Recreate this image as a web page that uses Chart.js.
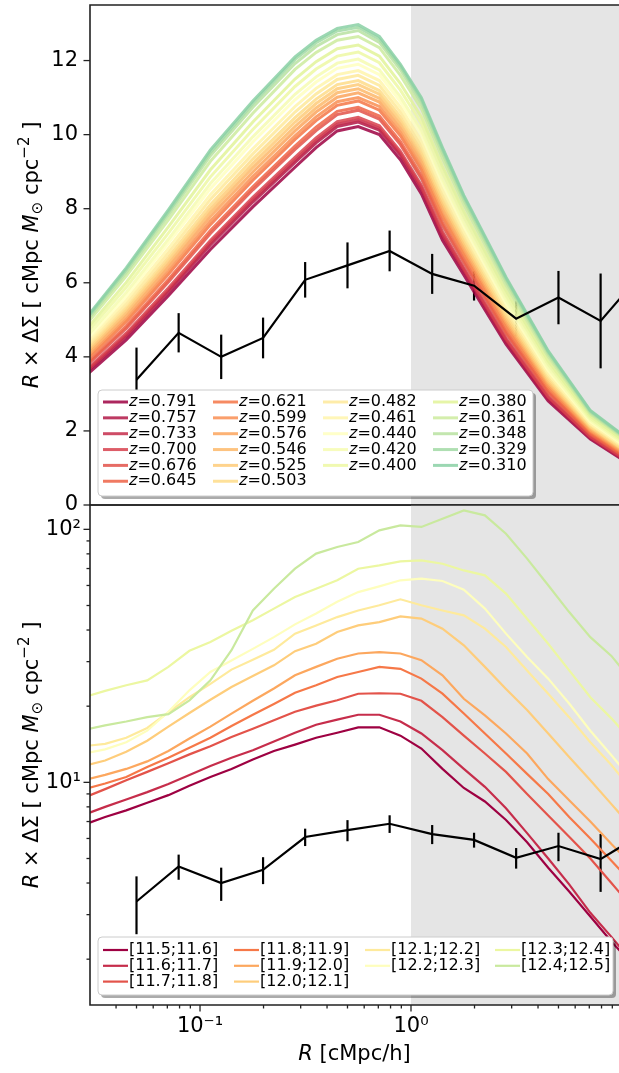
<!DOCTYPE html>
<html>
<head>
<meta charset="utf-8">
<script src="https://cdn.jsdelivr.net/npm/chart.js@4.4.1/dist/chart.umd.min.js"></script>
<style>
  html, body { margin: 0; padding: 0; background: #fff; }
  body { width: 619px; height: 1073px; position: relative; overflow: hidden; }
  canvas { position: absolute; left: 0; }
  #topChart { top: 0; }
  #botChart { top: 500px; }
</style>
</head>
<body>
<canvas id="topChart" width="619" height="530"></canvas>
<canvas id="botChart" width="619" height="573"></canvas>
<script>
// observed profile, shown in both panels
const obsR   = [0.05, 0.0792, 0.126, 0.199, 0.315, 0.5, 0.792, 1.26, 1.99, 3.15, 5.0, 7.92, 12.6];
const obsDS  = [3.38, 4.65, 4.00, 4.51, 6.08, 6.47, 6.86, 6.24, 5.92, 5.03, 5.60, 4.97, 6.30];
const obsErr = [0.87, 0.53, 0.60, 0.55, 0.48, 0.62, 0.55, 0.54, 0.40, 0.47, 0.72, 1.28, 0.90];

// top panel: one model curve per redshift
const zLabels = ['0.791','0.757','0.733','0.700','0.676','0.645','0.621','0.599','0.576','0.546','0.525',
                 '0.503','0.482','0.461','0.440','0.420','0.400','0.380','0.361','0.348','0.329','0.310'];
const zR = [0.0282, 0.0447, 0.0708, 0.112, 0.178, 0.282, 0.355, 0.447, 0.562, 0.708, 0.891,
            1.12, 1.41, 1.78, 2.24, 2.82, 4.47, 7.08, 11.2];
const zCurves = [
  [3.45, 4.46, 5.65, 6.90, 8.05, 9.12, 9.65, 10.10, 10.22, 10.00, 9.32, 8.40, 7.15, 6.21, 5.27, 4.34, 2.81, 1.78, 1.05], // 0.791
  [3.52, 4.55, 5.75, 7.02, 8.18, 9.25, 9.78, 10.22, 10.34, 10.12, 9.44, 8.52, 7.26, 6.31, 5.36, 4.42, 2.87, 1.82, 1.08],
  [3.55, 4.59, 5.80, 7.08, 8.24, 9.31, 9.84, 10.28, 10.40, 10.17, 9.49, 8.57, 7.31, 6.35, 5.40, 4.46, 2.90, 1.83, 1.09],
  [3.59, 4.64, 5.86, 7.14, 8.31, 9.39, 9.91, 10.35, 10.47, 10.24, 9.55, 8.63, 7.38, 6.40, 5.45, 4.50, 2.93, 1.85, 1.11],
  [3.70, 4.77, 6.02, 7.33, 8.51, 9.60, 10.11, 10.54, 10.66, 10.42, 9.73, 8.82, 7.55, 6.55, 5.59, 4.63, 3.03, 1.90, 1.15],
  [3.74, 4.83, 6.09, 7.41, 8.59, 9.69, 10.20, 10.63, 10.74, 10.50, 9.81, 8.89, 7.63, 6.62, 5.65, 4.68, 3.07, 1.93, 1.17],
  [3.83, 4.95, 6.23, 7.57, 8.77, 9.87, 10.38, 10.79, 10.91, 10.66, 9.97, 9.05, 7.78, 6.75, 5.77, 4.79, 3.15, 1.97, 1.21],
  [3.89, 5.01, 6.31, 7.67, 8.87, 9.97, 10.48, 10.89, 11.00, 10.76, 10.06, 9.14, 7.86, 6.82, 5.84, 4.86, 3.20, 2.00, 1.24],
  [3.96, 5.10, 6.42, 7.79, 8.99, 10.10, 10.61, 11.01, 11.13, 10.88, 10.17, 9.26, 7.98, 6.92, 5.93, 4.94, 3.26, 2.03, 1.27],
  [4.02, 5.18, 6.51, 7.90, 9.11, 10.22, 10.72, 11.13, 11.24, 10.98, 10.28, 9.36, 8.08, 7.01, 6.01, 5.01, 3.31, 2.07, 1.29],
  [4.08, 5.26, 6.60, 8.00, 9.22, 10.34, 10.84, 11.24, 11.35, 11.09, 10.38, 9.47, 8.18, 7.09, 6.09, 5.08, 3.36, 2.10, 1.32],
  [4.14, 5.33, 6.69, 8.11, 9.34, 10.46, 10.96, 11.35, 11.46, 11.19, 10.48, 9.57, 8.28, 7.18, 6.17, 5.16, 3.42, 2.13, 1.34],
  [4.22, 5.43, 6.81, 8.25, 9.48, 10.61, 11.10, 11.49, 11.60, 11.33, 10.61, 9.70, 8.40, 7.29, 6.27, 5.25, 3.49, 2.17, 1.38],
  [4.29, 5.53, 6.93, 8.38, 9.62, 10.76, 11.25, 11.62, 11.73, 11.46, 10.74, 9.83, 8.53, 7.39, 6.36, 5.34, 3.55, 2.20, 1.41],
  [4.38, 5.64, 7.07, 8.54, 9.80, 10.94, 11.42, 11.79, 11.90, 11.62, 10.89, 9.99, 8.68, 7.52, 6.48, 5.44, 3.63, 2.25, 1.45],
  [4.46, 5.74, 7.18, 8.68, 9.94, 11.09, 11.56, 11.93, 12.04, 11.75, 11.02, 10.12, 8.80, 7.63, 6.58, 5.54, 3.70, 2.29, 1.48],
  [4.57, 5.88, 7.34, 8.86, 10.14, 11.30, 11.77, 12.12, 12.23, 11.94, 11.20, 10.30, 8.98, 7.78, 6.72, 5.66, 3.80, 2.34, 1.53],
  [4.67, 6.01, 7.51, 9.05, 10.34, 11.50, 11.97, 12.32, 12.42, 12.12, 11.38, 10.48, 9.15, 7.93, 6.86, 5.79, 3.89, 2.40, 1.57],
  [4.80, 6.18, 7.70, 9.28, 10.58, 11.76, 12.22, 12.55, 12.65, 12.35, 11.60, 10.70, 9.36, 8.11, 7.03, 5.94, 4.01, 2.46, 1.63],
  [4.89, 6.28, 7.83, 9.43, 10.74, 11.92, 12.38, 12.70, 12.81, 12.49, 11.75, 10.84, 9.50, 8.23, 7.14, 6.04, 4.08, 2.50, 1.66],
  [4.94, 6.35, 7.91, 9.52, 10.84, 12.03, 12.48, 12.80, 12.90, 12.58, 11.84, 10.94, 9.59, 8.31, 7.21, 6.11, 4.13, 2.53, 1.68],
  [4.98, 6.40, 7.97, 9.59, 10.91, 12.10, 12.55, 12.87, 12.97, 12.65, 11.90, 11.00, 9.65, 8.36, 7.26, 6.15, 4.16, 2.55, 1.70]  // 0.310
];

// bottom panel: one model curve per mass bin
const massLabels = ['[11.5;11.6]','[11.6;11.7]','[11.7;11.8]','[11.8;11.9]','[11.9;12.0]',
                    '[12.0;12.1]','[12.1;12.2]','[12.2;12.3]','[12.3;12.4]','[12.4;12.5]'];
const mR = [0.0282, 0.0355, 0.0447, 0.0562, 0.0708, 0.0891, 0.112, 0.141, 0.178, 0.224, 0.282, 0.355, 0.447, 0.562,
            0.708, 0.891, 1.12, 1.41, 1.78, 2.24, 2.82, 3.55, 4.47, 5.62, 7.08, 8.91, 11.2];
const mCurves = [
  [6.8, 7.3, 7.75, 8.3, 8.9, 9.7, 10.5, 11.3, 12.3, 13.3, 14.1, 15.0, 15.7, 16.5, 16.5, 15.3, 13.6, 11.3, 9.5, 8.4, 7.1, 5.8, 4.6, 3.7, 2.95, 2.35, 1.9],
  [7.45, 8.0, 8.55, 9.15, 9.85, 10.7, 11.6, 12.5, 13.4, 14.5, 15.7, 16.9, 17.7, 18.5, 18.5, 17.4, 15.6, 13.4, 11.3, 9.6, 7.9, 6.3, 5.0, 3.95, 3.05, 2.45, 1.95],
  [8.7, 9.4, 10.2, 11.0, 11.9, 12.9, 13.9, 15.1, 16.3, 17.6, 19.0, 20.1, 21.1, 22.4, 22.5, 22.4, 21.0, 18.1, 15.3, 13.0, 11.0, 9.0, 7.4, 6.1, 5.0, 4.0, 3.2],
  [9.4, 9.9, 10.5, 11.5, 12.5, 13.7, 15.0, 16.7, 18.5, 20.4, 22.6, 24.2, 26.1, 27.3, 28.6, 28.1, 25.7, 22.4, 18.7, 15.6, 13.0, 10.8, 9.0, 7.3, 6.0, 4.9, 4.0],
  [10.2, 10.7, 11.3, 12.1, 13.3, 14.9, 16.6, 18.7, 21.0, 23.5, 26.5, 28.6, 30.8, 32.3, 32.7, 32.3, 30.4, 26.5, 21.4, 18.4, 15.6, 13.0, 10.3, 8.5, 7.0, 5.7, 4.7],
  [11.6, 12.2, 13.2, 14.6, 16.6, 18.8, 21.2, 23.8, 26.3, 29.0, 33.0, 35.3, 39.3, 41.7, 43.0, 45.3, 44.4, 40.5, 34.8, 28.6, 23.4, 19.3, 15.6, 12.6, 10.2, 8.2, 6.6],
  [13.9, 14.2, 15.0, 16.4, 18.9, 21.7, 24.5, 27.9, 30.5, 33.4, 38.7, 41.7, 45.0, 47.8, 50.1, 52.9, 50.1, 47.8, 45.7, 40.5, 34.3, 27.7, 22.4, 18.1, 14.4, 11.7, 9.3],
  [13.0, 13.5, 14.4, 16.0, 19.0, 23.1, 27.3, 30.3, 33.7, 37.5, 42.1, 46.5, 51.7, 56.5, 59.5, 62.9, 63.8, 62.5, 57.7, 48.6, 38.7, 31.3, 25.7, 20.5, 16.0, 12.8, 10.2],
  [21.7, 23.0, 24.2, 25.3, 28.6, 33.1, 35.9, 39.7, 43.7, 48.6, 54.0, 58.2, 62.9, 69.9, 72.0, 74.7, 75.4, 73.1, 68.8, 65.8, 55.7, 44.3, 35.3, 27.7, 21.7, 17.9, 14.5],
  [16.1, 16.8, 17.4, 18.1, 18.6, 21.1, 25.3, 33.3, 47.8, 58.2, 69.9, 80.2, 85.2, 89.1, 99.1, 103.7, 102.2, 110.1, 118.8, 113.6, 96.1, 76.6, 60.1, 47.1, 37.5, 31.6, 25.0]
];

// tick positions
const xTickVals = [0.04,0.05,0.06,0.07,0.08,0.09,0.1,0.2,0.3,0.4,0.5,0.6,0.7,0.8,0.9,1,2,3,4,5,6,7,8,9];
const yTopTicks = [0, 2, 4, 6, 8, 10, 12];
const yLogTickVals = [2,3,4,5,6,7,8,9,10,20,30,40,50,60,70,80,90,100];

const FONT = 'DejaVu Sans';
const spectralStops = [[158,1,66],[213,62,79],[244,109,67],[253,174,97],[254,224,139],[255,255,191],
                       [230,245,152],[171,221,164],[102,194,165],[50,136,189],[94,79,162]];
function spectral(t, a) {
  const p = t * 10;
  const i = Math.min(9, Math.floor(p));
  const f = p - i;
  const c = spectralStops[i].map((v, k) => Math.round(v + (spectralStops[i + 1][k] - v) * f));
  return 'rgba(' + c[0] + ',' + c[1] + ',' + c[2] + ',' + a + ')';
}
const isDecade = v => Math.abs(Math.log10(v) - Math.round(Math.log10(v))) < 1e-9;

function richText(ctx, segs, x, y, angle) {
  ctx.save();
  ctx.translate(x, y);
  ctx.rotate(angle);
  let w = 0;
  segs.forEach(s => { ctx.font = s.font; s.w = ctx.measureText(s.t).width; w += s.w; });
  let cx = -w / 2;
  ctx.textAlign = 'left';
  ctx.textBaseline = 'alphabetic';
  ctx.fillStyle = '#000';
  segs.forEach(s => { ctx.font = s.font; ctx.fillText(s.t, cx, s.dy || 0); cx += s.w; });
  ctx.restore();
}

const big = '21px "' + FONT + '"', bigIt = 'italic 21px "' + FONT + '"', small = '15px "' + FONT + '"';
const yTitle = [
  {t: 'R', font: bigIt}, {t: ' \u00d7 \u0394\u03a3 [ cMpc ', font: big}, {t: 'M', font: bigIt},
  {t: '\u2299', font: small, dy: 4}, {t: ' cpc', font: big}, {t: '\u22122', font: small, dy: -9}, {t: ' ]', font: big}
];
const xTitle = [{t: 'R', font: bigIt}, {t: ' [cMpc/h]', font: big}];

function roundRect(ctx, x, y, w, h, r) {
  ctx.beginPath();
  ctx.moveTo(x + r, y);
  ctx.arcTo(x + w, y, x + w, y + h, r);
  ctx.arcTo(x + w, y + h, x, y + h, r);
  ctx.arcTo(x, y + h, x, y, r);
  ctx.arcTo(x, y, x + w, y, r);
  ctx.closePath();
}

// column-major fill like matplotlib: the first (n % ncol) columns get one extra row
function legendSlots(n, ncol) {
  const rows = Math.ceil(n / ncol), large = n % ncol || ncol;
  const slots = [];
  let col = 0, row = 0;
  for (let i = 0; i < n; i++) {
    slots.push([col, row]);
    row++;
    if (row >= (col < large ? rows : rows - 1)) { col++; row = 0; }
  }
  return slots;
}

function drawLegend(ctx, L, chart) {
  const b = L.box;
  ctx.save();
  roundRect(ctx, b.x + 3, b.y + 3, b.w, b.h, 4);
  ctx.fillStyle = 'rgba(0,0,0,0.33)';
  ctx.fill();
  roundRect(ctx, b.x, b.y, b.w, b.h, 4);
  ctx.fillStyle = '#fff';
  ctx.fill();
  ctx.strokeStyle = '#cccccc';
  ctx.lineWidth = 1;
  ctx.stroke();
  ctx.textBaseline = 'middle';
  ctx.textAlign = 'left';
  ctx.fillStyle = '#000';
  const slots = legendSlots(L.labels.length, L.cols.length);
  L.labels.forEach((lab, i) => {
    const [col, row] = slots[i];
    const x = L.cols[col], y = L.row0 + row * L.dy;
    ctx.strokeStyle = chart.data.datasets[i].borderColor;
    ctx.lineWidth = L.lw;
    ctx.beginPath(); ctx.moveTo(x, y); ctx.lineTo(x + 25, y); ctx.stroke();
    let tx = x + 26;
    if (L.prefix) {
      ctx.font = 'italic 16px "' + FONT + '"';
      ctx.fillText(L.prefix, tx, y);
      tx += ctx.measureText(L.prefix).width;
    }
    ctx.font = '16px "' + FONT + '"';
    ctx.fillText(L.pre2 + lab, tx, y);
  });
  ctx.restore();
}

function decor(cfg) {
  return {
    id: 'decor',
    beforeDatasetsDraw(chart) {
      const {ctx, chartArea: a, scales: {x, y}} = chart;
      ctx.save();
      ctx.beginPath(); ctx.rect(a.left, a.top, a.right - a.left, a.bottom - a.top); ctx.clip();
      const x1 = x.getPixelForValue(1);
      ctx.fillStyle = '#e5e5e5';
      ctx.fillRect(x1, a.top, a.right - x1, a.bottom - a.top);
      ctx.strokeStyle = '#000';
      ctx.lineWidth = 2.2;
      obsR.forEach((r, i) => {
        const px = x.getPixelForValue(r);
        ctx.beginPath();
        ctx.moveTo(px, y.getPixelForValue(obsDS[i] - obsErr[i]));
        ctx.lineTo(px, y.getPixelForValue(obsDS[i] + obsErr[i]));
        ctx.stroke();
      });
      ctx.restore();
    },
    afterDraw(chart) {
      const {ctx, chartArea: a, scales: {x, y}} = chart;
      ctx.save();
      ctx.strokeStyle = '#222';
      ctx.lineWidth = 1.3;
      cfg.yTicks.forEach(v => {
        const py = y.getPixelForValue(v);
        const len = cfg.yMajor(v) ? 6.5 : 3.5;
        ctx.beginPath(); ctx.moveTo(a.left - len, py); ctx.lineTo(a.left, py); ctx.stroke();
      });
      if (cfg.xTicks) {
        cfg.xTicks.forEach(v => {
          const px = x.getPixelForValue(v);
          const len = isDecade(v) ? 6.5 : 3.5;
          ctx.beginPath(); ctx.moveTo(px, a.bottom); ctx.lineTo(px, a.bottom + len); ctx.stroke();
        });
        richText(ctx, xTitle, (a.left + a.right) / 2, a.bottom + 55, 0);
      }
      ctx.lineWidth = 1.6;
      ctx.beginPath();
      ctx.moveTo(a.right + 5, a.top); ctx.lineTo(a.left, a.top);
      ctx.lineTo(a.left, a.bottom); ctx.lineTo(a.right + 5, a.bottom);
      ctx.stroke();
      richText(ctx, yTitle, 38, (a.top + a.bottom) / 2, -Math.PI / 2);
      drawLegend(ctx, cfg.legend, chart);
      ctx.restore();
    }
  };
}

function curveSets(xs, curves, colorAt, width) {
  return curves.map((c, i) => ({
    data: c.map((v, k) => ({x: xs[k], y: v})),
    borderColor: colorAt(i),
    borderWidth: width,
    pointRadius: 0,
    tension: 0,
    clip: 0,
    order: curves.length - i + 1
  }));
}

function obsSet() {
  return {
    data: obsR.map((r, i) => ({x: r, y: obsDS[i]})),
    borderColor: '#000', borderWidth: 2.2, pointRadius: 0, tension: 0, clip: 0, order: 0
  };
}

const tickFont = {family: FONT, size: 21};

const topChart = new Chart(document.getElementById('topChart'), {
  type: 'line',
  data: {datasets: curveSets(zR, zCurves, i => spectral(i / 21 * 0.75, 0.85), 3).concat([obsSet()])},
  options: {
    responsive: false, animation: false, devicePixelRatio: 1,
    layout: {padding: {top: 5, bottom: 25, left: 0, right: 0}, autoPadding: false},
    plugins: {legend: {display: false}, tooltip: {enabled: false}},
    events: [],
    scales: {
      x: {type: 'logarithmic', min: 0.0301, max: 9.68, display: false},
      y: {
        type: 'linear', min: 0, max: 13.5,
        grid: {display: false, drawTicks: false}, border: {display: false},
        ticks: {stepSize: 2, includeBounds: false, font: tickFont, color: '#000', padding: 12},
        afterFit: s => { s.width = 90; s.paddingTop = 0; s.paddingBottom = 0; }
      }
    }
  },
  plugins: [decor({
    yTicks: yTopTicks, yMajor: () => true, xTicks: null,
    legend: {labels: zLabels, cols: [103, 213, 323, 433], row0: 402, dy: 15.85, lw: 3,
             prefix: 'z', pre2: '=', box: {x: 98, y: 390, w: 435, h: 106}}
  })]
});

const botChart = new Chart(document.getElementById('botChart'), {
  type: 'line',
  data: {datasets: curveSets(mR, mCurves, i => spectral(i / 9 * 0.65, 1), 2.2).concat([obsSet()])},
  options: {
    responsive: false, animation: false, devicePixelRatio: 1,
    layout: {padding: {top: 5, bottom: 0, left: 0, right: 0}, autoPadding: false},
    plugins: {legend: {display: false}, tooltip: {enabled: false}},
    events: [],
    scales: {
      x: {
        type: 'logarithmic', min: 0.0301, max: 9.68,
        grid: {display: false, drawTicks: false}, border: {display: false},
        ticks: {font: tickFont, color: '#000', padding: 9, autoSkip: false, maxRotation: 0, minRotation: 0,
                callback: v => v === 0.1 ? '10\u207b\u00b9' : (v === 1 ? '10\u2070' : '')},
        afterBuildTicks: s => { s.ticks = xTickVals.filter(v => v >= s.min && v <= s.max).map(v => ({value: v})); },
        afterFit: s => { s.height = 68; s.paddingLeft = 0; s.paddingRight = 0; }
      },
      y: {
        type: 'logarithmic', min: 1.318, max: 124.8,
        grid: {display: false, drawTicks: false}, border: {display: false},
        ticks: {font: tickFont, color: '#000', padding: 9, autoSkip: false,
                callback: v => v === 10 ? '10\u00b9' : (v === 100 ? '10\u00b2' : '')},
        afterBuildTicks: s => { s.ticks = yLogTickVals.filter(v => v >= s.min && v <= s.max).map(v => ({value: v})); },
        afterFit: s => { s.width = 90; s.paddingTop = 0; s.paddingBottom = 0; }
      }
    }
  },
  plugins: [decor({
    yTicks: yLogTickVals, yMajor: isDecade, xTicks: xTickVals,
    legend: {labels: massLabels, cols: [103, 234, 365, 495], row0: 450, dy: 15.8, lw: 2.2,
             prefix: '', pre2: '', box: {x: 98, y: 437, w: 515, h: 58}}
  })]
});
</script>
</body>
</html>
